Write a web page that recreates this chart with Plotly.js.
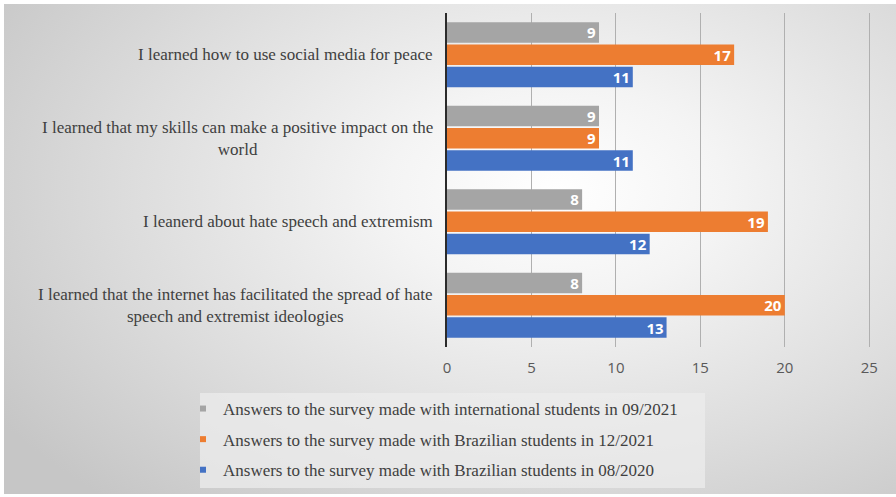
<!DOCTYPE html>
<html>
<head>
<meta charset="utf-8">
<script src="https://cdn.plot.ly/plotly-3.0.1.min.js"></script>
<style>
html,body{margin:0;padding:0;background:#ffffff;}
#wrap{position:absolute;left:4px;top:4px;width:892px;height:490px;
background:radial-gradient(ellipse 75% 85% at 62% 38%, #ffffff 0%, #f4f4f4 25%, #dcdcdc 65%, #c6c6c6 100%);}
#chart{position:absolute;left:0;top:0;width:896px;height:497px;}
#chart .legendpoints path{transform:translate(20px,0) scale(0.5);}
</style>
</head>
<body>
<div id="wrap"></div>
<div id="chart"></div>
<script>
// categories listed bottom to top
var categories = [
  "I learned that the internet has facilitated the spread of hate<br>speech and extremist ideologies",
  "I leanerd about hate speech and extremism",
  "I learned that my skills can make a positive impact on the<br>world",
  "I learned how to use social media for peace"
];
var seriesNames = [
  "Answers to the survey made with Brazilian students in 08/2020",
  "Answers to the survey made with Brazilian students in 12/2021",
  "Answers to the survey made with international students in 09/2021"
];
var brazil2020 = [13, 12, 11, 11];
var brazil2021 = [20, 19, 9, 17];
var intl2021 = [8, 8, 9, 9];
var xTicks = [0, 5, 10, 15, 20, 25];

var colors = ["#4472c4", "#ed7d31", "#a5a5a5"];
var values = [brazil2020, brazil2021, intl2021];
var ranks = [3, 2, 1];

var traces = values.map(function(v, i){
  return {
    type: "bar", orientation: "h",
    x: v, y: categories,
    name: seriesNames[i],
    legendgroup: "g" + i,
    legendrank: ranks[i],
    marker: {color: colors[i]},
    text: v.map(String),
    textposition: "inside",
    insidetextanchor: "end",
    textangle: 0,
    constraintext: "none",
    textfont: {color: "#ffffff", size: 15, family: "Open Sans, sans-serif", weight: "bold"},
    hoverinfo: "x+name"
  };
});

var annotations = categories.map(function(c){
  return {
    xref: "paper", yref: "y", x: 0, y: c,
    text: c, showarrow: false,
    xanchor: "right", yanchor: "middle", align: "center",
    xshift: -12,
    font: {family: "Liberation Serif, serif", size: 17, color: "#404040"}
  };
});

var layout = {
  width: 896, height: 497,
  paper_bgcolor: "rgba(0,0,0,0)",
  plot_bgcolor: "rgba(0,0,0,0)",
  margin: {l: 447, r: 20, t: 13, b: 150, autoexpand: false},
  barmode: "group",
  bargap: 0.2,
  bargroupgap: 0.08,
  xaxis: {
    range: [0, 25.4],
    tickvals: xTicks,
    showgrid: true, gridcolor: "#b0b0b0", gridwidth: 1,
    zeroline: false, showline: false,
    ticks: "", ticklabelstandoff: 10,
    tickfont: {family: "Open Sans, sans-serif", size: 15, color: "#595959"},
    fixedrange: true
  },
  yaxis: {
    type: "category",
    categoryorder: "array", categoryarray: categories,
    showticklabels: false,
    showline: true, linecolor: "#2b2b2b", linewidth: 2,
    showgrid: false, zeroline: false, ticks: "",
    fixedrange: true
  },
  shapes: [{
    type: "rect", xref: "paper", yref: "paper", layer: "below",
    x0: -0.5758, x1: 0.6014, y0: -0.4222, y1: -0.1377,
    fillcolor: "rgba(236,236,236,0.75)", line: {width: 0}
  }],
  showlegend: true,
  legend: {
    traceorder: "grouped",
    tracegroupgap: 5.5,
    x: -0.6154, xanchor: "left",
    y: -0.1317, yanchor: "top",
    bgcolor: "rgba(0,0,0,0)",
    borderwidth: 0,
    font: {family: "Liberation Serif, serif", size: 17, color: "#404040"},
    itemwidth: 30
  },
  annotations: annotations
};

Plotly.newPlot("chart", traces, layout, {displayModeBar: false, staticPlot: true});
</script>
</body>
</html>
